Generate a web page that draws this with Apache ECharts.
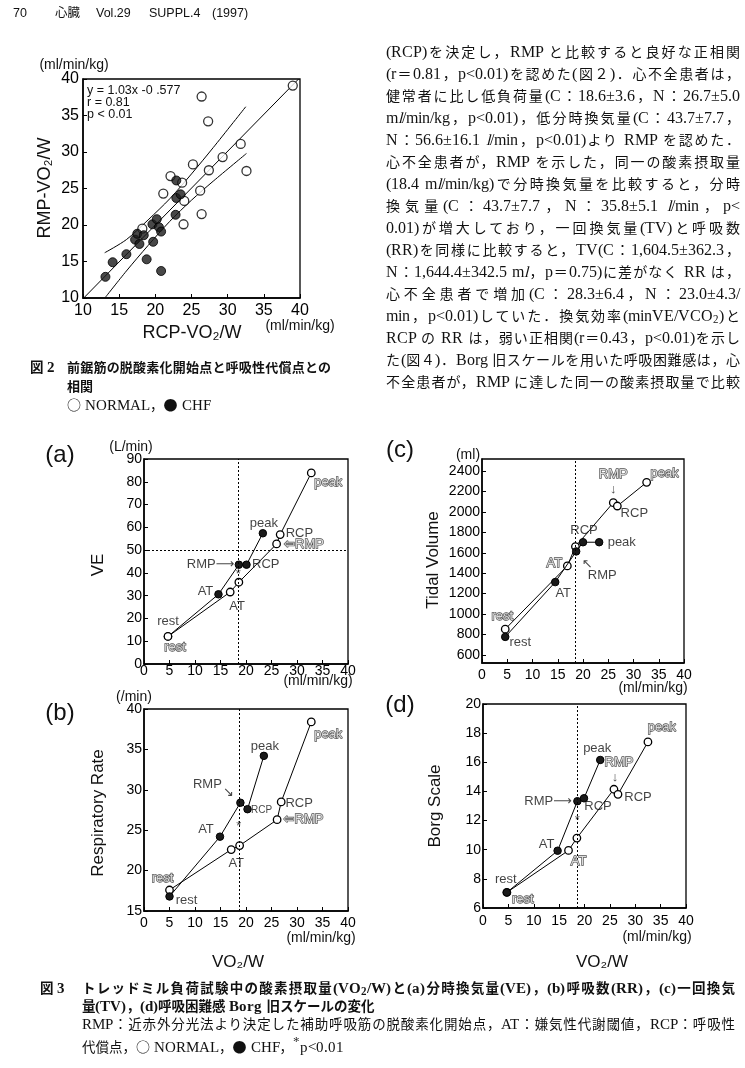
<!DOCTYPE html>
<html lang="ja"><head><meta charset="utf-8">
<script src="https://cdn.jsdelivr.net/npm/echarts@6/dist/echarts.min.js"></script>
<style>
@font-face{font-family:"SerifBig";src:local("Liberation Serif");size-adjust:112%;}
@font-face{font-family:"SerifBig";src:local("Liberation Serif Bold"),local("LiberationSerif-Bold");font-weight:bold;size-adjust:112%;}
html,body{margin:0;padding:0;background:#fff;}
#page{position:relative;width:745px;height:1068px;overflow:hidden;background:#fff;}
#chart{position:absolute;left:0;top:0;width:745px;height:1068px;}
.t{position:absolute;color:#111;}
.nw{white-space:nowrap;}
.j{text-align:justify;text-align-last:justify;}
.hdr{font-family:"Liberation Sans","Noto Sans CJK JP",sans-serif;font-size:12.5px;line-height:16px;}
.bd{font-family:"SerifBig","Liberation Serif","Noto Sans CJK JP",serif;font-size:14px;line-height:20px;}
.cap{font-family:"SerifBig","Liberation Serif","Noto Sans CJK JP",serif;font-size:13.5px;line-height:18px;font-weight:bold;}
.cap2{font-family:"SerifBig","Liberation Serif","Noto Sans CJK JP",serif;font-size:13px;line-height:18px;font-weight:bold;}
.capr{font-family:"SerifBig","Liberation Serif","Noto Sans CJK JP",serif;font-size:13.5px;line-height:18px;}
.sym{font-family:"Noto Sans CJK JP",sans-serif;font-size:14px;}
sub{font-size:70%;vertical-align:-2px;line-height:0;}
</style></head>
<body>
<div id="page"><div id="chart"></div></div>
<script>
// ---------------- DATA ----------------
// Fig.2 scatter: [RCP-VO2/W, RMP-VO2/W]
const fig2Normal = [[39.0,39.1],[26.4,37.6],[27.3,34.2],[31.8,31.1],[29.3,29.3],[25.2,28.3],[27.4,27.5],[32.6,27.4],[22.1,26.7],[23.7,25.8],[21.1,24.3],[26.2,24.7],[24.0,23.3],[26.4,21.5],[23.9,20.1],[18.2,19.5]];
const fig2CHF = [[13.1,12.9],[14.1,14.9],[16.0,16.0],[18.8,15.3],[20.8,13.7],[19.7,17.7],[17.2,18.0],[17.8,17.4],[17.5,18.8],[18.4,18.6],[19.6,20.1],[20.2,20.8],[20.5,19.7],[20.8,19.1],[22.8,21.4],[22.9,26.1],[22.9,23.7],[23.5,24.2]];
const fig2Fit = [[10.0,9.9],[39.8,40.0]];
const fig2Upper = [[13.0,16.2],[16.0,18.0],[19.0,20.7],[22.0,23.6],[25.0,27.0],[28.0,30.6],[32.5,36.2]];
const fig2Lower = [[13.1,10.1],[16.0,13.7],[19.0,17.2],[22.0,20.5],[25.0,23.4],[28.0,26.0],[32.6,29.8]];
const fig2Ticks = [10,15,20,25,30,35,40];

// Fig.3 : points in order rest, AT, (same VO2), RMP, RCP, peak
const vo2Ticks = [0,5,10,15,20,25,30,35,40];
const normalA = [[4.7,12.1],[16.9,31.6],[18.6,35.9],[26.0,52.7],[26.7,56.8],[32.8,83.9]];
const chfA    = [[4.7,12.1],[14.6,30.6],[18.6,43.6],[20.1,43.6],[23.3,57.4]];
const veTicks = [0,10,20,30,40,50,60,70,80,90];
const refA = {x:18.5, y:50}; const starA = [[18.5,39.2]];

const normalB = [[5.0,17.6],[17.1,22.6],[18.75,23.1],[26.1,26.3],[26.9,28.5],[32.8,38.4]];
const chfB    = [[5.0,16.8],[14.9,24.2],[18.9,28.4],[20.3,27.6],[23.5,34.2]];
const rrTicks = [15,20,25,30,35,40];
const refB = {x:18.6}; const starB = [[18.6,25.5]];

const normalC = [[4.6,852],[16.9,1472],[18.5,1661],[26.0,2092],[26.8,2059],[32.6,2291]];
const chfC    = [[4.6,776],[14.5,1313],[18.65,1614],[20.0,1704],[23.2,1704]];
const tvTicks = [600,800,1000,1200,1400,1600,1800,2000,2200,2400];
const refC = {x:18.45};

const normalD = [[4.7,7.07],[16.85,9.95],[18.5,10.8],[25.8,14.15],[26.6,13.8],[32.5,17.4]];
const chfD    = [[4.7,7.07],[14.7,9.93],[18.6,13.33],[19.9,13.53],[23.1,16.16]];
const borgTicks = [6,8,10,12,14,16,18,20];
const refD = {x:18.6}; const starD = [[18.6,12.0]];

// point-label texts anchored to data points (n = NORMAL, c = CHF)
const labelsA = [
 {s:'c',i:0,t:'rest'},{s:'n',i:0,t:'rest',o:1},{s:'c',i:1,t:'AT'},{s:'n',i:1,t:'AT'},
 {s:'c',i:2,t:'RMP⟶'},{s:'c',i:3,t:'RCP'},{s:'c',i:4,t:'peak'},
 {s:'n',i:4,t:'RCP'},{s:'n',i:3,t:'⇦RMP',o:1},{s:'n',i:5,t:'peak',o:1}];
const labelsB = [
 {s:'n',i:0,t:'rest',o:1},{s:'c',i:0,t:'rest'},{s:'c',i:1,t:'AT'},{s:'n',i:1,t:'AT'},
 {s:'c',i:2,t:'RMP'},{s:'c',i:2,t:'↘'},{s:'c',i:3,t:'RCP'},{s:'c',i:4,t:'peak'},
 {s:'n',i:4,t:'RCP'},{s:'n',i:3,t:'⇦RMP',o:1},{s:'n',i:5,t:'peak',o:1}];
const labelsC = [
 {s:'n',i:0,t:'rest',o:1},{s:'c',i:0,t:'rest'},{s:'n',i:1,t:'AT',o:1},{s:'c',i:1,t:'AT'},
 {s:'c',i:3,t:'RCP'},{s:'c',i:4,t:'peak'},{s:'c',i:2,t:'RMP'},{s:'c',i:2,t:'↖'},
 {s:'n',i:3,t:'RMP',o:1},{s:'n',i:3,t:'↓'},{s:'n',i:4,t:'RCP'},{s:'n',i:5,t:'peak',o:1}];
const labelsD = [
 {s:'c',i:0,t:'rest'},{s:'n',i:0,t:'rest',o:1},{s:'c',i:1,t:'AT'},{s:'n',i:1,t:'AT',o:1},
 {s:'c',i:2,t:'RMP⟶'},{s:'c',i:3,t:'RCP'},{s:'c',i:4,t:'peak'},
 {s:'n',i:3,t:'RMP',o:1},{s:'n',i:3,t:'↓'},{s:'n',i:4,t:'RCP'},{s:'n',i:5,t:'peak',o:1}];

// ---------------- LAYOUT / STYLE (kept apart from data) ----------------
const offA = [{dx:0,dy:-15},{dx:7,dy:11},{dx:-13,dy:-3},{dx:7,dy:14},{pos:'left',d:4},{pos:'right',d:5},{dx:1,dy:-10},{pos:'right',d:5,dy:-1},{pos:'right',d:7},{dx:17,dy:10}];
const offB = [{dx:-7,dy:-12},{dx:17,dy:4},{dx:-14,dy:-7},{dx:5,dy:14},{dx:-33,dy:-18},{dx:-12,dy:-10},{dx:14,dy:1,fs:10},{dx:1,dy:-9},{dx:18,dy:2},{pos:'right',d:6},{dx:17,dy:12}];
const offC = [{dx:-3,dy:-13},{dx:15,dy:6},{dx:-13,dy:-2},{dx:8,dy:11},{dx:1,dy:-12},{pos:'right',d:8},{dx:26,dy:24},{dx:11,dy:13},{dx:0,dy:-28},{dx:0,dy:-13},{dx:17,dy:7},{dx:18,dy:-9}];
const offD = [{dx:-1,dy:-13},{dx:16,dy:7},{dx:-11,dy:-6},{dx:10,dy:11},{pos:'left',d:5},{dx:14,dy:8},{dx:-3,dy:-12},{dx:5,dy:-27},{dx:1,dy:-12},{dx:20,dy:3},{dx:14,dy:-14}];

const SANS = '"Liberation Sans", "DejaVu Sans", Arial, sans-serif';
const grids = [
 {left:83, top:79, width:217, height:219},
 {left:144, top:459, width:204, height:205},
 {left:482, top:459, width:202, height:204},
 {left:144, top:709, width:204, height:202},
 {left:483, top:704, width:203, height:204}
];

function ax(gi, min, max, ticks, fs, margin) {
  return {type:'value', gridIndex:gi, min:min, max:max,
    axisLine:{show:true, onZero:false, lineStyle:{color:'#000', width:1.5}},
    axisTick:{show:true, inside:true, length:4, customValues:ticks, lineStyle:{color:'#000', width:1}},
    axisLabel:{show:true, customValues:ticks, color:'#000', fontFamily:SANS, fontSize:fs, margin:margin,
      formatter:function(v){ return String(v); }},
    splitLine:{show:false}};
}

const symOpen = {color:'#fff', borderColor:'#000', borderWidth:1.3};
const symFill = {color:'#1a1a1a', borderColor:'#000', borderWidth:1};

function lineSeries(gi, data, open, z, ref) {
  const s = {type:'line', xAxisIndex:gi, yAxisIndex:gi, data:data, symbol:'circle', symbolSize:7.5,
    showAllSymbol:true, itemStyle:open?symOpen:symFill, lineStyle:{color:'#000', width:1}, z:z,
    emphasis:{disabled:true}, animation:false};
  if (ref) {
    const md = [{xAxis:ref.x}];
    if (ref.y !== undefined) md.push({yAxis:ref.y});
    s.markLine = {silent:true, symbol:'none', label:{show:false}, animation:false,
      lineStyle:{type:[2,2], color:'#000', width:1}, data:md};
  }
  return s;
}
function annSeries(gi, labels, offs, normal, chf) {
  return {type:'scatter', xAxisIndex:gi, yAxisIndex:gi, symbolSize:1, silent:true, z:6, animation:false,
    itemStyle:{color:'rgba(0,0,0,0)'},
    data: labels.map(function(l, k){
      const o = offs[k]; const src = l.s==='n' ? normal : chf; const p = src[l.i];
      const lab = {show:true, formatter:l.t, fontFamily:SANS, fontSize:o.fs||13, color:'#111'};
      if (o.pos) { lab.position = o.pos; lab.distance = o.d; lab.offset = [0, o.dy||0]; }
      else { lab.position = 'inside'; lab.offset = [o.dx, o.dy]; lab.align='center'; lab.verticalAlign='middle'; }
      if (l.o) { lab.color = '#ffffff'; lab.textBorderColor = '#222'; lab.textBorderWidth = 1.3; }
      return {value:p, label:lab};
    })};
}
function starSeries(gi, stars) {
  return {type:'scatter', xAxisIndex:gi, yAxisIndex:gi, symbolSize:1, silent:true, z:6, animation:false,
    itemStyle:{color:'rgba(0,0,0,0)'}, data:stars,
    label:{show:true, formatter:'*', position:'inside', fontFamily:SANS, fontSize:13, color:'#111'}};
}

const xAxes = [
  ax(0, fig2Ticks[0], fig2Ticks[fig2Ticks.length-1], fig2Ticks, 16, 5),
  ax(1, 0, 40, vo2Ticks, 14, 0),
  ax(2, 0, 40, vo2Ticks, 14, 5),
  ax(3, 0, 40, vo2Ticks, 14, 5),
  ax(4, 0, 40, vo2Ticks, 14, 6)
];
const yAxes = [
  ax(0, fig2Ticks[0], fig2Ticks[fig2Ticks.length-1], fig2Ticks, 16, 4),
  ax(1, veTicks[0], veTicks[veTicks.length-1], veTicks, 14, 2),
  ax(2, 520, 2520, tvTicks, 14, 2),
  ax(3, rrTicks[0], rrTicks[rrTicks.length-1], rrTicks, 14, 2),
  ax(4, borgTicks[0], borgTicks[borgTicks.length-1], borgTicks, 14, 2)
];

const series = [
  {type:'line', xAxisIndex:0, yAxisIndex:0, data:fig2Fit, symbol:'none', lineStyle:{color:'#000', width:1}, z:2, animation:false},
  {type:'line', xAxisIndex:0, yAxisIndex:0, data:fig2Upper, symbol:'none', smooth:0.3, lineStyle:{color:'#000', width:1}, z:2, animation:false},
  {type:'line', xAxisIndex:0, yAxisIndex:0, data:fig2Lower, symbol:'none', smooth:0.3, lineStyle:{color:'#000', width:1}, z:2, animation:false},
  {type:'scatter', xAxisIndex:0, yAxisIndex:0, data:fig2Normal, symbolSize:9, itemStyle:symOpen, z:3, animation:false},
  {type:'scatter', xAxisIndex:0, yAxisIndex:0, data:fig2CHF, symbolSize:9, itemStyle:symFill, z:4, animation:false},
  // (a)
  lineSeries(1, chfA, false, 3, refA), lineSeries(1, normalA, true, 4, null),
  annSeries(1, labelsA, offA, normalA, chfA), starSeries(1, starA),
  // (c)
  lineSeries(2, normalC, true, 3, refC), lineSeries(2, chfC, false, 4, null),
  annSeries(2, labelsC, offC, normalC, chfC),
  // (b)
  lineSeries(3, normalB, true, 3, refB), lineSeries(3, chfB, false, 4, null),
  annSeries(3, labelsB, offB, normalB, chfB), starSeries(3, starB),
  // (d)
  lineSeries(4, normalD, true, 3, refD), lineSeries(4, chfD, false, 4, null),
  annSeries(4, labelsD, offD, normalD, chfD), starSeries(4, starD)
];

function txt(x, y, text, fs, opt) {
  opt = opt || {};
  return {type:'text', x:x, y:y, rotation:opt.rot||0, silent:true, z:10,
    style:{text:text, fontFamily:opt.ff||SANS, fontSize:fs, fontWeight:opt.fw||'normal', fill:'#111',
      align:opt.align||'center', verticalAlign:'middle'}};
}
const R = Math.PI/2;
const graphics = [
  // Fig 2
  txt(74, 65, '(ml/min/kg)', 14),
  txt(45, 188, 'RMP-VO₂/W', 18, {rot:R}),
  txt(192, 333, 'RCP-VO₂/W', 18),
  txt(300, 326, '(ml/min/kg)', 14),
  txt(87, 91, 'y = 1.03x -0 .577', 12.5, {align:'left'}),
  txt(87, 103, 'r = 0.81', 12.5, {align:'left'}),
  txt(87, 115, 'p < 0.01', 12.5, {align:'left'}),
  // (a)
  txt(60, 455, '(a)', 24),
  txt(131, 447, '(L/min)', 14),
  txt(98, 565, 'VE', 17, {rot:R}),
  txt(318, 681, '(ml/min/kg)', 14),
  // (c)
  txt(400, 450, '(c)', 24),
  txt(468, 455, '(ml)', 14),
  txt(433, 560, 'Tidal Volume', 17, {rot:R}),
  txt(653, 688, '(ml/min/kg)', 14),
  // (b)
  txt(60, 713, '(b)', 24),
  txt(134, 697, '(/min)', 14),
  txt(98, 813, 'Respiratory Rate', 17, {rot:R}),
  txt(321, 938, '(ml/min/kg)', 14),
  txt(238, 962, 'VO₂/W', 17),
  // (d)
  txt(400, 705, '(d)', 24),
  txt(435, 806, 'Borg Scale', 17, {rot:R}),
  txt(657, 937, '(ml/min/kg)', 14),
  txt(602, 962, 'VO₂/W', 17)
];

const chart = echarts.init(document.getElementById('chart'), null, {renderer:'canvas'});
chart.setOption({
  animation:false,
  backgroundColor:'transparent',
  grid: grids.map(function(g){ return Object.assign({show:true, borderColor:'#000', borderWidth:1.3, backgroundColor:'transparent', containLabel:false, outerBoundsMode:'none'}, g); }),
  xAxis: xAxes, yAxis: yAxes, series: series, graphic: graphics
});

// ---------------- PAGE TEXT ----------------
const bodyLines = [
 '(RCP)を決定し，RMP と比較すると良好な正相関',
 '(r＝0.81，p&lt;0.01)を認めた(図２)．心不全患者は，',
 '健常者に比し低負荷量(C：18.6±3.6，N：26.7±5.0',
 'm<i>l</i>/min/kg，p&lt;0.01)，低分時換気量(C：43.7±7.7，',
 'N：56.6±16.1 <i>l</i>/min，p&lt;0.01)より RMP を認めた．',
 '心不全患者が，RMP を示した，同一の酸素摂取量',
 '(18.4 m<i>l</i>/min/kg)で分時換気量を比較すると，分時',
 '換気量(C：43.7±7.7，N：35.8±5.1 <i>l</i>/min，p&lt;',
 '0.01)が増大しており，一回換気量(TV)と呼吸数',
 '(RR)を同様に比較すると，TV(C：1,604.5±362.3，',
 'N：1,644.4±342.5 m<i>l</i>，p＝0.75)に差がなく RR は，',
 '心不全患者で増加(C：28.3±6.4，N：23.0±4.3/',
 'min，p&lt;0.01)していた．換気効率(minVE/VCO<sub>2</sub>)と',
 'RCP の RR は，弱い正相関(r＝0.43，p&lt;0.01)を示し',
 'た(図４)．Borg 旧スケールを用いた呼吸困難感は，心',
 '不全患者が，RMP に達した同一の酸素摂取量で比較'
];
const page = document.getElementById('page');
function put(html, left, cy, cls, lh, width) {
  const d = document.createElement('div');
  d.className = 't ' + cls + (width ? ' j' : ' nw');
  d.style.left = left + 'px';
  d.style.top = (cy - lh/2) + 'px';
  if (width) d.style.width = width + 'px';
  d.innerHTML = html;
  page.appendChild(d);
}
put('70', 13, 13, 'hdr', 16);
put('心臓', 55, 13, 'hdr', 16);
put('Vol.29', 96, 13, 'hdr', 16);
put('SUPPL.4', 149, 13, 'hdr', 16);
put('(1997)', 212, 13, 'hdr', 16);
bodyLines.forEach(function(l, i){ put(l, 386, 52 + 22*i, 'bd', 20, 354); });
put('図 2', 30, 367, 'cap', 18);
put('前鋸筋の脱酸素化開始点と呼吸性代償点との', 67, 367, 'cap2', 18, 264);
put('相関', 67, 386, 'cap2', 18);
put('<span class="sym">○</span> NORMAL，<span class="sym">●</span> CHF', 67, 404, 'capr', 18);
put('図 3', 40, 988, 'cap', 18);
put('トレッドミル負荷試験中の酸素摂取量(VO<sub>2</sub>/W)と(a)分時換気量(VE)，(b)呼吸数(RR)，(c)一回換気', 82, 988, 'cap', 18, 653);
put('量(TV)，(d)呼吸困難感 Borg 旧スケールの変化', 82, 1006, 'cap', 18);
put('RMP：近赤外分光法より決定した補助呼吸筋の脱酸素化開始点，AT：嫌気性代謝閾値，RCP：呼吸性', 82, 1024, 'capr', 18, 653);
put('代償点，<span class="sym">○</span> NORMAL，<span class="sym">●</span> CHF，<sup>*</sup>p&lt;0.01', 82, 1042, 'capr', 18);
</script>
</body></html>
